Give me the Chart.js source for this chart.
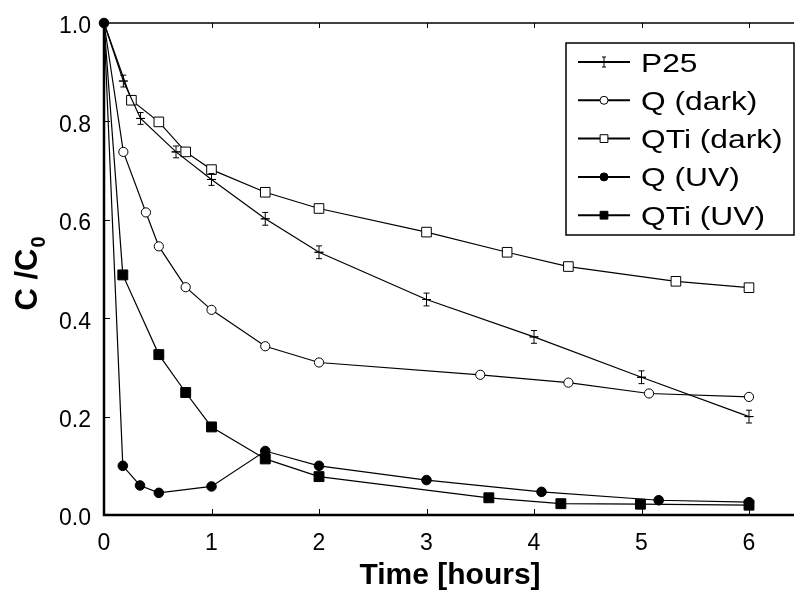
<!DOCTYPE html>
<html>
<head>
<meta charset="utf-8">
<script src="https://cdn.jsdelivr.net/npm/chart.js@4.4.1/dist/chart.umd.min.js"></script>
<style>
html, body { margin: 0; padding: 0; background: #fff; }
#wrap { width: 800px; height: 592px; }
</style>
</head>
<body>
<div id="wrap"><canvas id="chart" width="800" height="592"></canvas></div>
<script>
// Axis ticks
const xTicks = [0, 1, 2, 3, 4, 5, 6];
const yTicks = [0, 0.2, 0.4, 0.6, 0.8, 1.0];

// P25 (with error bars)
const p25Time = [0, 0.18, 0.34, 0.67, 1, 1.5, 2, 3, 4, 5, 6];
const p25Conc = [1.0, 0.882, 0.806, 0.738, 0.682, 0.602, 0.534, 0.438, 0.362, 0.280, 0.200];
const p25ErrY = [0, 0.012, 0.012, 0.012, 0.012, 0.013, 0.013, 0.013, 0.013, 0.013, 0.013];
const p25ErrX = [0, 0.04, 0.04, 0.04, 0.04, 0.04, 0.04, 0.04, 0.04, 0.04, 0.04];

// Q (dark)
const qDarkTime = [0, 0.18, 0.39, 0.51, 0.76, 1, 1.5, 2, 3.5, 4.32, 5.07, 6];
const qDarkConc = [1.0, 0.738, 0.615, 0.546, 0.463, 0.417, 0.343, 0.310, 0.285, 0.269, 0.247, 0.240];

// QTi (dark)
const qtiDarkTime = [0, 0.255, 0.51, 0.76, 1, 1.5, 2, 3, 3.75, 4.32, 5.32, 6];
const qtiDarkConc = [1.0, 0.843, 0.799, 0.738, 0.702, 0.656, 0.623, 0.575, 0.534, 0.505, 0.475, 0.462];

// Q (UV)
const qUvTime = [0, 0.175, 0.335, 0.51, 1, 1.5, 2, 3, 4.07, 5.16, 6];
const qUvConc = [1.0, 0.100, 0.060, 0.045, 0.058, 0.130, 0.100, 0.071, 0.047, 0.030, 0.026];

// QTi (UV)
const qtiUvTime = [0, 0.175, 0.51, 0.76, 1, 1.5, 2, 3.58, 4.25, 4.99, 6];
const qtiUvConc = [1.0, 0.488, 0.326, 0.249, 0.179, 0.114, 0.078, 0.035, 0.023, 0.022, 0.020];

const seriesLabels = ['P25', 'Q (dark)', 'QTi (dark)', 'Q (UV)', 'QTi (UV)'];

function toPoints(xs, ys) {
    return xs.map((t, i) => ({ x: t, y: ys[i] }));
}

// hideFirst: the shared start point (0, 1) only shows the Q (UV) dot
function makeSet(label, xs, ys, style, radius, fill, order, hideFirst) {
    const r = (c) => (hideFirst && c.dataIndex === 0) ? 0 : radius;
    return {
        label: label,
        data: toPoints(xs, ys),
        showLine: true,
        clip: false,
        order: order,
        borderColor: '#000',
        borderWidth: 1.2,
        pointStyle: style,
        pointRadius: r,
        pointHoverRadius: r,
        pointBackgroundColor: fill,
        pointBorderColor: '#000',
        pointBorderWidth: 1
    };
}

const datasets = [
    makeSet(seriesLabels[0], p25Time, p25Conc, 'line', 4.5, '#000', 3, true),
    makeSet(seriesLabels[1], qDarkTime, qDarkConc, 'circle', 4.6, '#fff', 4, true),
    makeSet(seriesLabels[2], qtiDarkTime, qtiDarkConc, 'rect', 6.8, '#fff', 5, true),
    makeSet(seriesLabels[3], qUvTime, qUvConc, 'circle', 4.8, '#000', 1, false),
    makeSet(seriesLabels[4], qtiUvTime, qtiUvConc, 'rect', 7, '#000', 2, true)
];

// Draw text stretched horizontally (legend type is wide in the original)
function wideText(ctx, text, x, y, sx) {
    ctx.save();
    ctx.translate(x, y);
    ctx.scale(sx, 1);
    ctx.fillText(text, 0, 0);
    ctx.restore();
}

const decorPlugin = {
    id: 'decor',
    beforeDatasetsDraw(chart) {
        const ctx = chart.ctx;
        const a = chart.chartArea;
        const xs = chart.scales.x, ys = chart.scales.y;
        ctx.save();
        ctx.strokeStyle = '#000';

        // frame: left, bottom, top
        ctx.lineWidth = 2.5;
        ctx.beginPath();
        ctx.moveTo(a.left, a.top); ctx.lineTo(a.left, a.bottom); ctx.lineTo(a.right + 2, a.bottom);
        ctx.stroke();
        ctx.lineWidth = 1.5;
        ctx.beginPath();
        ctx.moveTo(a.left, a.top); ctx.lineTo(a.right + 2, a.top);
        ctx.stroke();

        // inward ticks
        ctx.lineWidth = 1;
        ctx.beginPath();
        xTicks.forEach(t => {
            if (t === 0) return;
            const px = Math.round(xs.getPixelForValue(t)) + 0.5;
            ctx.moveTo(px, a.bottom); ctx.lineTo(px, a.bottom - 6);
            ctx.moveTo(px, a.top); ctx.lineTo(px, a.top + 5);
        });
        yTicks.forEach(v => {
            if (v === 0 || v === 1) return;
            const py = Math.round(ys.getPixelForValue(v)) + 0.5;
            ctx.moveTo(a.left, py); ctx.lineTo(a.left + 6, py);
        });
        ctx.stroke();
        ctx.restore();
    },
    afterDatasetsDraw(chart) {
        // error bars for P25
        const ctx = chart.ctx;
        const xs = chart.scales.x, ys = chart.scales.y;
        ctx.save();
        ctx.strokeStyle = '#000';
        ctx.lineWidth = 1;
        p25Time.forEach((t, i) => {
            if (!p25ErrY[i]) return;
            const px = xs.getPixelForValue(t);
            const top = ys.getPixelForValue(p25Conc[i] + p25ErrY[i]);
            const bot = ys.getPixelForValue(p25Conc[i] - p25ErrY[i]);
            const left = xs.getPixelForValue(t - p25ErrX[i]);
            const right = xs.getPixelForValue(t + p25ErrX[i]);
            const py = ys.getPixelForValue(p25Conc[i]);
            ctx.beginPath();
            ctx.moveTo(px, top); ctx.lineTo(px, bot);
            ctx.moveTo(px - 3, top); ctx.lineTo(px + 3, top);
            ctx.moveTo(px - 3, bot); ctx.lineTo(px + 3, bot);
            ctx.moveTo(left, py); ctx.lineTo(right, py);
            ctx.stroke();
        });
        ctx.restore();
    },
    afterDraw(chart) {
        const ctx = chart.ctx;
        ctx.save();
        ctx.strokeStyle = '#000';

        // axis titles
        ctx.fillStyle = '#000';
        ctx.textAlign = 'center';
        ctx.textBaseline = 'alphabetic';
        ctx.font = 'bold 30px "Liberation Sans", Arial, sans-serif';
        ctx.fillText('Time [hours]', 450, 584);

        ctx.save();
        ctx.translate(37, 274);
        ctx.rotate(-Math.PI / 2);
        ctx.font = 'bold 31px "Liberation Sans", Arial, sans-serif';
        ctx.textAlign = 'left';
        const main = 'C /C';
        const mw = ctx.measureText(main).width;
        ctx.font = 'bold 20px "Liberation Sans", Arial, sans-serif';
        const sw = ctx.measureText('0').width;
        const startX = -(mw + sw) / 2;
        ctx.font = 'bold 31px "Liberation Sans", Arial, sans-serif';
        ctx.fillText(main, startX, 0);
        ctx.font = 'bold 20px "Liberation Sans", Arial, sans-serif';
        ctx.fillText('0', startX + mw + 1, 8);
        ctx.restore();

        // legend
        const bx = 566, by = 43, bw = 228, bh = 192;
        ctx.fillStyle = '#fff';
        ctx.fillRect(bx, by, bw, bh);
        ctx.lineWidth = 1.5;
        ctx.strokeRect(bx, by, bw, bh);
        const legendRadius = [4, 4, 5.5, 4, 5.5];
        seriesLabels.forEach((label, i) => {
            const ds = chart.data.datasets[i];
            const cy = 62 + i * 38.3;
            ctx.lineWidth = 2;
            ctx.strokeStyle = '#000';
            ctx.beginPath();
            ctx.moveTo(578, cy); ctx.lineTo(630, cy);
            ctx.stroke();
            if (i === 0) {
                ctx.lineWidth = 1;
                ctx.beginPath();
                ctx.moveTo(604, cy - 5); ctx.lineTo(604, cy + 5);
                ctx.moveTo(602, cy - 5); ctx.lineTo(606, cy - 5);
                ctx.moveTo(602, cy + 5); ctx.lineTo(606, cy + 5);
                ctx.stroke();
            } else {
                ctx.fillStyle = ds.pointBackgroundColor;
                ctx.lineWidth = 1;
                Chart.helpers.drawPoint(ctx, {
                    pointStyle: ds.pointStyle,
                    radius: legendRadius[i],
                    borderWidth: 1,
                    rotation: 0
                }, 604, cy);
            }
            ctx.fillStyle = '#000';
            ctx.textAlign = 'left';
            ctx.textBaseline = 'alphabetic';
            ctx.font = '25px "Liberation Sans", Arial, sans-serif';
            wideText(ctx, label, 641, cy + 9.5, 1.27);
        });
        ctx.restore();
    }
};

new Chart(document.getElementById('chart').getContext('2d'), {
    type: 'scatter',
    data: { datasets: datasets },
    options: {
        responsive: false,
        animation: false,
        events: [],
        layout: { padding: { top: 23, right: 2, left: 0, bottom: 0 } },
        plugins: {
            legend: { display: false },
            tooltip: { enabled: false }
        },
        scales: {
            x: {
                type: 'linear',
                min: 0,
                max: 6.4,
                afterFit: (s) => { s.height = 77; },
                afterBuildTicks: (s) => { s.ticks = xTicks.map(v => ({ value: v })); },
                grid: { display: false },
                border: { display: false },
                ticks: {
                    color: '#000',
                    padding: 7,
                    font: { family: '"Liberation Sans", Arial, sans-serif', size: 23 },
                    callback: (v) => String(v)
                }
            },
            y: {
                type: 'linear',
                min: 0,
                max: 1.0,
                afterFit: (s) => { s.width = 104; },
                afterBuildTicks: (s) => { s.ticks = yTicks.map(v => ({ value: v })); },
                grid: { display: false },
                border: { display: false },
                ticks: {
                    color: '#000',
                    padding: 5,
                    labelOffset: 4,
                    font: { family: '"Liberation Sans", Arial, sans-serif', size: 23 },
                    callback: (v) => Number(v).toFixed(1)
                }
            }
        }
    },
    plugins: [decorPlugin]
});
</script>
</body>
</html>
